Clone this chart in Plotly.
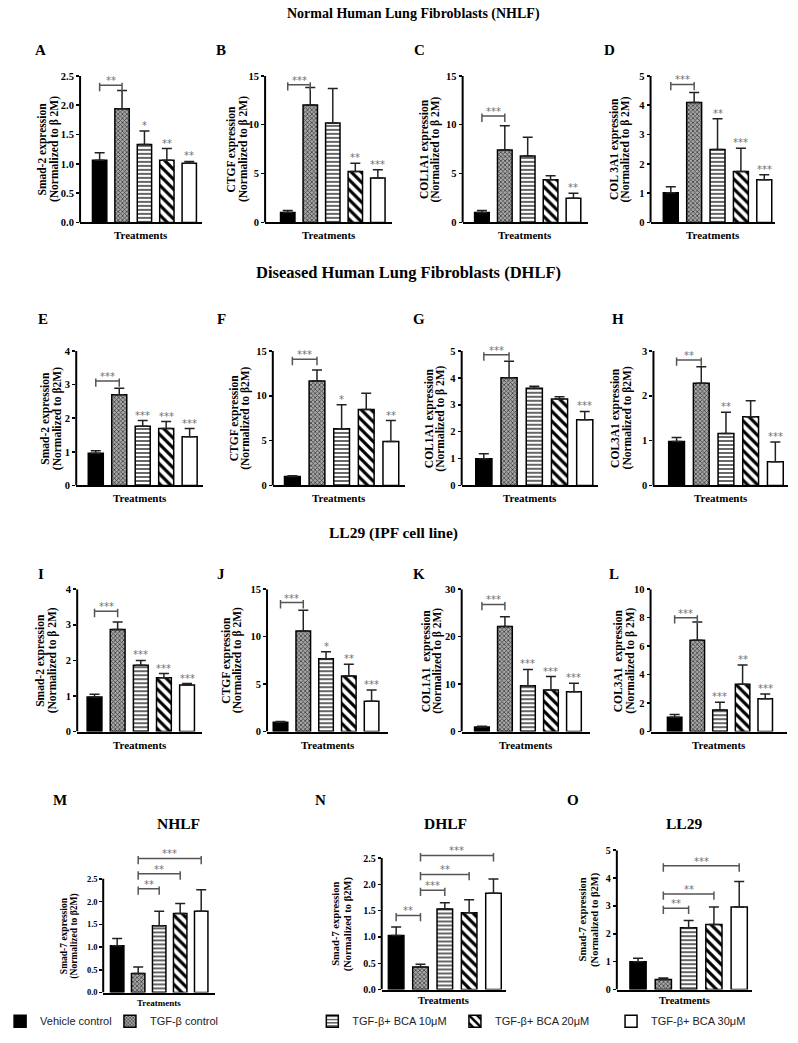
import plotly.graph_objects as go

W, H = 798, 1043

treatments = ["Vehicle control", "TGF-β control", "TGF-β+ BCA 10μM",
              "TGF-β+ BCA 20μM", "TGF-β+ BCA 30μM"]

# ---------------- values (mean, SEM) ----------------
nhlf_smad2 = [1.06, 1.94, 1.33, 1.06, 1.01]
nhlf_smad2_sem = [0.13, 0.31, 0.23, 0.20, 0.03]
nhlf_ctgf = [1.01, 12.03, 10.18, 5.22, 4.55]
nhlf_ctgf_sem = [0.22, 1.77, 3.52, 0.85, 0.84]
nhlf_col1a1 = [1.01, 7.41, 6.80, 4.38, 2.49]
nhlf_col1a1_sem = [0.22, 2.49, 1.93, 0.41, 0.51]
nhlf_col3a1 = [1.01, 4.09, 2.49, 1.74, 1.46]
nhlf_col3a1_sem = [0.21, 0.34, 1.05, 0.79, 0.17]

dhlf_smad2 = [0.96, 2.70, 1.76, 1.69, 1.45]
dhlf_smad2_sem = [0.07, 0.19, 0.17, 0.21, 0.24]
dhlf_ctgf = [0.99, 11.65, 6.32, 8.46, 4.89]
dhlf_ctgf_sem = [0.08, 1.22, 2.68, 1.83, 2.35]
dhlf_col1a1 = [0.99, 4.00, 3.61, 3.21, 2.44]
dhlf_col1a1_sem = [0.19, 0.62, 0.08, 0.09, 0.31]
dhlf_col3a1 = [0.98, 2.28, 1.16, 1.53, 0.53]
dhlf_col3a1_sem = [0.09, 0.37, 0.47, 0.36, 0.44]

ll29_smad2 = [0.97, 2.87, 1.86, 1.51, 1.31]
ll29_smad2_sem = [0.08, 0.21, 0.14, 0.12, 0.04]
ll29_ctgf = [0.99, 10.60, 7.68, 5.85, 3.20]
ll29_ctgf_sem = [0.07, 2.18, 0.74, 1.23, 1.17]
ll29_col1a1 = [0.97, 22.15, 9.65, 8.75, 8.40]
ll29_col1a1_sem = [0.13, 2.05, 3.45, 2.85, 1.80]
ll29_col3a1 = [1.00, 6.42, 1.51, 3.33, 2.30]
ll29_col3a1_sem = [0.19, 1.28, 0.54, 1.34, 0.33]

nhlf_smad7 = [1.03, 0.42, 1.47, 1.74, 1.79]
nhlf_smad7_sem = [0.16, 0.14, 0.32, 0.22, 0.47]
dhlf_smad7 = [1.03, 0.43, 1.53, 1.46, 1.83]
dhlf_smad7_sem = [0.16, 0.05, 0.12, 0.25, 0.27]
ll29_smad7 = [1.00, 0.36, 2.22, 2.33, 2.96]
ll29_smad7_sem = [0.12, 0.05, 0.26, 0.63, 0.92]

# significance marks above bars
sig_A = ["", "", "*", "**", "**"]
sig_B = ["", "", "", "**", "***"]
sig_C = ["", "", "", "", "**"]
sig_D = ["", "", "**", "***", "***"]
sig_E = ["", "", "***", "***", "***"]
sig_F = ["", "", "*", "", "**"]
sig_G = ["", "", "", "", "***"]
sig_H = ["", "", "**", "", "***"]
sig_I = ["", "", "***", "***", "***"]
sig_J = ["", "", "*", "**", "***"]
sig_K = ["", "", "***", "***", "***"]
sig_L = ["", "", "***", "**", "***"]
sig_none = ["", "", "", "", ""]

# comparison brackets: (from bar, to bar, height, label)
br_A = [(0, 1, 2.34, "**")]
br_B = [(0, 1, 14.1, "***")]
br_C = [(0, 1, 10.9, "***")]
br_D = [(0, 1, 4.71, "***")]
br_E = [(0, 1, 3.11, "***")]
br_F = [(0, 1, 14.08, "***")]
br_G = [(0, 1, 4.86, "***")]
br_H = [(0, 1, 2.80, "**")]
br_I = [(0, 1, 3.38, "***")]
br_J = [(0, 1, 13.6, "***")]
br_K = [(0, 1, 26.8, "***")]
br_L = [(0, 1, 8.0, "***")]
br_M = [(1, 2, 2.28, "**"), (1, 3, 2.61, "**"), (1, 4, 2.95, "***")]
br_N = [(0, 1, 1.41, "**"), (1, 2, 1.89, "***"), (1, 3, 2.19, "**"), (1, 4, 2.55, "***")]
br_O = [(1, 2, 2.92, "**"), (1, 3, 3.43, "**"), (1, 4, 4.44, "***")]

# tick labels
ticks_2p5 = [0, 0.5, 1.0, 1.5, 2.0, 2.5]
ticks_2p5_lbl = ["0.0", "0.5", "1.0", "1.5", "2.0", "2.5"]
ticks_15 = [0, 5, 10, 15]
ticks_5 = [0, 1, 2, 3, 4, 5]
ticks_4 = [0, 1, 2, 3, 4]
ticks_3 = [0, 1, 2, 3]
ticks_30 = [0, 10, 20, 30]
ticks_10 = [0, 2, 4, 6, 8, 10]

norm_a = "(Normalized to β 2M)"
norm_b = "(Normalized to β2M)"

panels = [
    dict(letter="A", mean=nhlf_smad2, sem=nhlf_smad2_sem, sig=sig_A, br=br_A, ylab=("Smad-2 expression", norm_a), tv=ticks_2p5, tt=ticks_2p5_lbl),
    dict(letter="B", mean=nhlf_ctgf, sem=nhlf_ctgf_sem, sig=sig_B, br=br_B, ylab=("CTGF expression", norm_a), tv=ticks_15, tt=None),
    dict(letter="C", mean=nhlf_col1a1, sem=nhlf_col1a1_sem, sig=sig_C, br=br_C, ylab=("COL1A1 expression", norm_a), tv=ticks_15, tt=None),
    dict(letter="D", mean=nhlf_col3a1, sem=nhlf_col3a1_sem, sig=sig_D, br=br_D, ylab=("COL 3A1 expression", norm_a), tv=ticks_5, tt=None),
    dict(letter="E", mean=dhlf_smad2, sem=dhlf_smad2_sem, sig=sig_E, br=br_E, ylab=("Smad-2 expression", norm_b), tv=ticks_4, tt=None),
    dict(letter="F", mean=dhlf_ctgf, sem=dhlf_ctgf_sem, sig=sig_F, br=br_F, ylab=("CTGF expression", norm_b), tv=ticks_15, tt=None),
    dict(letter="G", mean=dhlf_col1a1, sem=dhlf_col1a1_sem, sig=sig_G, br=br_G, ylab=("COL1A1 expression", norm_a), tv=ticks_5, tt=None),
    dict(letter="H", mean=dhlf_col3a1, sem=dhlf_col3a1_sem, sig=sig_H, br=br_H, ylab=("COL3A1 expression", norm_b), tv=ticks_3, tt=None),
    dict(letter="I", mean=ll29_smad2, sem=ll29_smad2_sem, sig=sig_I, br=br_I, ylab=("Smad-2 expression", norm_a), tv=ticks_4, tt=None),
    dict(letter="J", mean=ll29_ctgf, sem=ll29_ctgf_sem, sig=sig_J, br=br_J, ylab=("CTGF expression", norm_a), tv=ticks_15, tt=None),
    dict(letter="K", mean=ll29_col1a1, sem=ll29_col1a1_sem, sig=sig_K, br=br_K, ylab=("COL1A1  expression", norm_a), tv=ticks_30, tt=None),
    dict(letter="L", mean=ll29_col3a1, sem=ll29_col3a1_sem, sig=sig_L, br=br_L, ylab=("COL3A1  expression", norm_a), tv=ticks_10, tt=None),
    dict(letter="M", mean=nhlf_smad7, sem=nhlf_smad7_sem, sig=sig_none, br=br_M, ylab=("Smad-7 expression", norm_b), tv=ticks_2p5, tt=ticks_2p5_lbl),
    dict(letter="N", mean=dhlf_smad7, sem=dhlf_smad7_sem, sig=sig_none, br=br_N, ylab=("Smad-7 expression", norm_b), tv=ticks_2p5, tt=ticks_2p5_lbl),
    dict(letter="O", mean=ll29_smad7, sem=ll29_smad7_sem, sig=sig_none, br=br_O, ylab=("Smad-7 expression", norm_b), tv=ticks_5, tt=None),
]

# ---------------- layout geometry (pixels) ----------------
# x-axis start, first bar centre, last bar centre, x-axis end, top-tick px, zero px,
# y-title centre offset, letter x, letter y
geom = [
    (53, 73.3, 166.3, 180, 70.7, 219, -32, 12, 45),
    (245, 268.5, 362, 377, 70.7, 219, -28, 199, 45),
    (450, 470, 565, 580, 70.7, 219, -33, 405, 45),
    (645, 666, 763, 774, 70.7, 219, -31, 602, 45),
    (49, 69.3, 166.7, 181, 349, 485, -25, 15, 317),
    (253, 273.3, 375.5, 390, 349, 485, -33, 200, 317),
    (449, 472, 576.7, 590, 349, 485, -27, 405, 317),
    (648, 672, 774.5, 788, 349, 485, -32, 611, 317),
    (50, 68, 164, 180, 590, 734, -31, 12, 575),
    (247, 261, 355.5, 373, 590, 734, -35, 199, 575),
    (449, 470, 565.5, 582, 590, 734, -30, 405, 575),
    (645, 670, 764, 787, 590, 734, -26, 607, 575),
    (77, 91.5, 178.7, 193, 883, 998, -34, 32, 803),
    (366, 381, 482, 495, 862, 995, -40, 302, 803),
    (610, 632, 737, 750, 854, 995, -28, 565, 803),
]
# text sizes per panel: tick font, y-title font, y-title line gap, "Treatments" font, x-title shift
fonts = [(10.5, 11.5, 11.5, 11, -13)] * 12 + [
    (8.5, 9.5, 11.5, 9, -10),
    (10, 10.5, 11.5, 10.5, -11),
    (10, 10.5, 12.5, 10.5, -11),
]

SERIF = "Liberation Serif"
SANS = "Liberation Sans"
STARF = "DejaVu Sans"
STAR = "#707070"
BRK = "#555555"

styles = [
    dict(color="black", line=dict(color="black", width=1.5)),
    dict(color="#9a9a9a", line=dict(color="black", width=1.5),
         pattern=dict(shape="x", size=3, solidity=0.45, fgcolor="#3c3c3c", bgcolor="#a8a8a8", fillmode="replace")),
    dict(color="white", line=dict(color="black", width=1.5),
         pattern=dict(shape="-", size=4, solidity=0.3, fgcolor="black", bgcolor="white", fillmode="replace")),
    dict(color="white", line=dict(color="black", width=1.5),
         pattern=dict(shape="\\", size=7, solidity=0.45, fgcolor="black", bgcolor="white", fillmode="replace")),
    dict(color="white", line=dict(color="black", width=1.5)),
]
legend_ids = ["legend", "legend2", "legend3", "legend4", "legend5"]
legend_text_x = [28, 142, 352, 500, 662]
legend_y = 1027

fig = go.Figure()
layout = dict(width=W, height=H, margin=dict(l=0, r=0, t=0, b=0),
              paper_bgcolor="white", plot_bgcolor="white", barmode="overlay",
              bargap=0)
shapes = []
annots = []

for k, (p, g, f) in enumerate(zip(panels, geom, fonts)):
    n = k + 1
    sx = "" if n == 1 else str(n)
    x0, c0, c4, x1, top_px, zero_px, tdx, lx, ly = g
    tfs, yfs, lgap, trfs, trsh = f
    s = (c4 - c0) / 4.0
    xr = [-(c0 - x0) / s, 4 + (x1 - c4) / s]
    ymax = p["tv"][-1]
    ppu = (zero_px - top_px) / ymax
    top_needed = max([ymax] + [b[2] + 4.0 / ppu for b in p["br"]])
    dom_top_px = zero_px - top_needed * ppu

    for i in range(5):
        fig.add_trace(go.Bar(
            x=[i], y=[p["mean"][i]], width=0.64,
            xaxis="x" + sx, yaxis="y" + sx,
            marker=styles[i],
            error_y=dict(type="data", symmetric=False, array=[p["sem"][i]],
                         arrayminus=[0], color="#222222", thickness=1.5, width=5),
            name=treatments[i], showlegend=(k == 0), legend=legend_ids[i],
            hoverinfo="skip"))

    layout["xaxis" + sx] = dict(domain=[x0 / W, x1 / W], range=xr, anchor="y" + sx,
                                showline=True, linecolor="black", linewidth=2,
                                showticklabels=False, ticks="", showgrid=False,
                                zeroline=False, fixedrange=True)
    yax = dict(domain=[1 - zero_px / H, 1 - dom_top_px / H], range=[0, top_needed],
               anchor="x" + sx, showline=False, showgrid=False, zeroline=False,
               tickvals=p["tv"], ticks="outside", ticklen=3, tickwidth=1.5,
               tickcolor="black", tickfont=dict(family=SERIF, size=tfs, color="black", weight="bold"),
               fixedrange=True)
    if p["tt"] is not None:
        yax["ticktext"] = p["tt"]
    layout["yaxis" + sx] = yax

    # y axis line up to the top tick
    shapes.append(dict(type="line", xref="x" + sx + " domain", x0=0, x1=0,
                       yref="y" + sx, y0=0, y1=ymax,
                       line=dict(color="black", width=2)))

    # brackets
    for (a, b, hy, lab) in p["br"]:
        dn = 6.0 / ppu
        up = 2.5 / ppu
        shapes.append(dict(type="line", xref="x" + sx, yref="y" + sx,
                           x0=a, x1=b, y0=hy, y1=hy, line=dict(color=BRK, width=1.5)))
        for xx in (a, b):
            shapes.append(dict(type="line", xref="x" + sx, yref="y" + sx,
                               x0=xx, x1=xx, y0=hy - dn, y1=hy + up,
                               line=dict(color=BRK, width=1.5)))
        annots.append(dict(xref="x" + sx, yref="y" + sx, x=(a + b) / 2, y=hy,
                           text=lab, showarrow=False, yanchor="bottom", yshift=-3,
                           font=dict(family=STARF, size=10, color=STAR)))

    # stars over bars
    for i, lab in enumerate(p["sig"]):
        if lab:
            annots.append(dict(xref="x" + sx, yref="y" + sx, x=i,
                               y=p["mean"][i] + p["sem"][i], text=lab,
                               showarrow=False, yanchor="bottom", yshift=-2,
                               font=dict(family=STARF, size=10, color=STAR)))

    # y title (two lines)
    for j, line in enumerate(p["ylab"]):
        annots.append(dict(xref="x" + sx + " domain", x=0,
                           xshift=tdx + (j - 0.5) * lgap, yref="y" + sx,
                           y=ymax / 2, text=line, textangle=-90, showarrow=False,
                           xanchor="center", yanchor="middle", borderpad=0,
                           font=dict(family=SERIF, size=yfs, color="black", weight="bold")))
    # x title
    annots.append(dict(xref="x" + sx + " domain", x=0.5, yref="y" + sx, y=0,
                       yshift=trsh, text="Treatments", showarrow=False,
                       xanchor="center", yanchor="middle",
                       font=dict(family=SERIF, size=trfs, color="black", weight="bold")))
    # panel letter
    annots.append(dict(xref="paper", yref="paper", x=lx / W, y=1 - ly / H,
                       text=p["letter"], showarrow=False, xanchor="center", yanchor="middle",
                       font=dict(family=SERIF, size=15, color="black", weight="bold")))

# row titles
row_titles = [("Normal Human Lung Fibroblasts (NHLF)", 399, 8, 14),
              ("Diseased Human Lung Fibroblasts (DHLF)", 394, 270, 16.5),
              ("LL29 (IPF cell line)", 378, 533, 15.5),
              ("NHLF", 155, 827, 15.5), ("DHLF", 432, 827, 15.5), ("LL29", 680, 827, 15.5)]
for t, tx, ty, fs in row_titles:
    annots.append(dict(xref="paper", yref="paper", x=tx / W, y=1 - ty / H, text=t,
                       showarrow=False, xanchor="center", yanchor="middle",
                       font=dict(family=SERIF, size=fs, color="black", weight="bold")))

for i, lid in enumerate(legend_ids):
    layout[lid] = dict(x=(legend_text_x[i] - 58) / W, y=1 - legend_y / H,
                       xanchor="left", yanchor="middle", orientation="h",
                       bgcolor="rgba(0,0,0,0)", borderwidth=0,
                       font=dict(family=SANS, size=11, color="#222222"))

layout["shapes"] = shapes
layout["annotations"] = annots
fig.update_layout(**layout)
fig.write_html("out.html", config={"displayModeBar": False, "staticPlot": True},
               post_script="document.body.style.margin='0px';document.body.style.overflow='hidden';")
